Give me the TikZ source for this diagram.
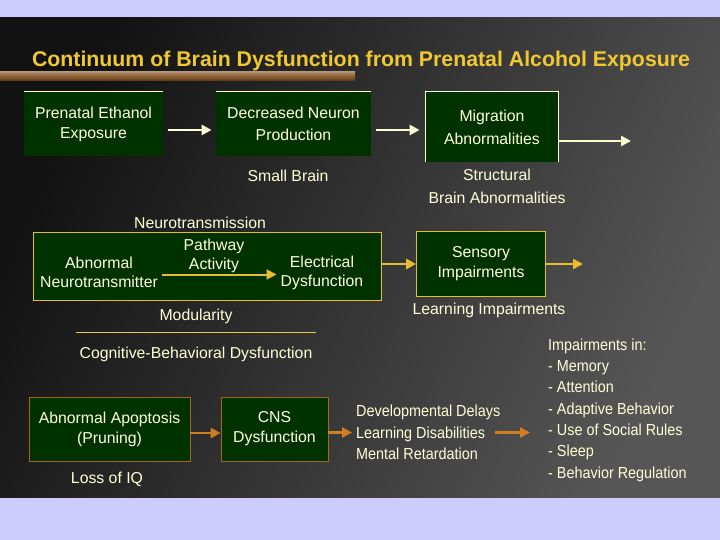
\documentclass[tikz,border=0pt]{standalone}
\usepackage{fontspec}
\setmainfont{Liberation Sans}
\newfontfamily\narrowfont[FakeStretch=0.9]{Liberation Sans}
\usetikzlibrary{arrows.meta, positioning}
\definecolor{lavender}{RGB}{204,204,255}
\definecolor{slidedark}{RGB}{18,18,18}
\definecolor{slidelight}{RGB}{86,86,86}
\definecolor{boxgreen}{RGB}{0,50,0}
\definecolor{cream}{RGB}{255,255,214}
\definecolor{gold}{RGB}{232,190,48}
\definecolor{titleyellow}{RGB}{240,200,48}
\definecolor{rust}{RGB}{208,126,32}
\definecolor{wood}{RGB}{140,92,48}

\begin{document}
\begin{tikzpicture}[x=1pt, y=-1pt,
    font=\fontsize{15.8}{20}\selectfont,
    greenbox/.style={draw=#1, fill=boxgreen, line width=0.8pt, text=cream, align=center, inner sep=2pt},
    note/.style={text=cream, align=center, inner sep=2pt},
    flow/.style={draw=#1, line width=2.5pt, -{Triangle[length=10pt,width=10pt]}}]
    % background and slide
    \fill[lavender] (0,0) rectangle (720,540);
    \shade[top color=slidedark, bottom color=slidelight, shading angle=65] (0,18) rectangle (720,497);
    \shade[top color=wood!70!white, bottom color=wood!60!black, middle color=wood] (0,72) rectangle (355,81);
    \useasboundingbox (0,0) rectangle (720,540);

    \node[text=titleyellow, font=\bfseries\fontsize{21.3}{24}\selectfont] (title) at (361,61) {Continuum of Brain Dysfunction from Prenatal Alcohol Exposure};

    % first row
    \node[greenbox=none, minimum width=139pt, minimum height=64pt] (ethanol) at (93.5,124) {Prenatal Ethanol\\Exposure};
    \node[greenbox=none, minimum width=155pt, minimum height=64pt] (neuron) at (293.5,124) {Decreased Neuron\\[2pt]Production};
    \node[greenbox=none, minimum width=132pt, minimum height=70pt] (migration) at (492,127) {Migration\\[3pt]Abnormalities};
    \draw[cream, line width=0.8pt] (ethanol.north west) -- (ethanol.north east);
    \draw[cream, line width=0.8pt] (neuron.north west) -- (neuron.north east);
    \draw[cream, line width=0.8pt] (migration.south west) -- (migration.north west) -- (migration.north east) -- (migration.south east);
    \coordinate (structout) at (631,141);

    \draw[flow=cream, shorten <=5pt, shorten >=4pt] ([yshift=-6pt]ethanol.east) -- ([yshift=-6pt]neuron.west);
    \draw[flow=cream, shorten <=5pt, shorten >=6pt] ([yshift=-6pt]neuron.east) -- ([yshift=-3pt]migration.west);
    \draw[flow=cream] ([yshift=-14pt]migration.east) -- (structout);

    \node[note] (smallbrain) at (288,176) {Small Brain};
    \node[note, font=\fontsize{15.8}{23}\selectfont] (structural) at (497,186.5) {Structural\\Brain Abnormalities};

    % second row
    \node[note] (neurotrans) at (200,223) {Neurotransmission};
    \node[greenbox=gold, minimum width=348pt, minimum height=68pt] (neurobox) at (207,266) {};
    \node[note, font=\fontsize{15.8}{19}\selectfont] (transmitter) at (99,272.5) {Abnormal\\Neurotransmitter};
    \node[note, font=\fontsize{15.8}{19}\selectfont] (pathway) at (214,256) {Pathway\\Activity};
    \node[note, font=\fontsize{15.8}{19}\selectfont] (electrical) at (322,272.5) {Electrical\\Dysfunction};
    \draw[flow=gold, line width=2pt, shorten <=2pt, shorten >=2pt] ([yshift=-2pt]transmitter.east) -- ([yshift=-2pt]electrical.west);

    \node[greenbox=gold, minimum width=129pt, minimum height=65pt] (sensory) at (481,264) {Sensory\\Impairments};
    \coordinate (sensout) at (583,264);
    \draw[flow=gold] (neurobox.east |- sensory.west) -- (sensory.west);
    \draw[flow=gold] (sensory.east) -- (sensout);

    \node[note] (learning) at (489,310) {Learning Impairments};
    \node[note] (modularity) at (196,316) {Modularity};
    \draw[gold!85!white, line width=1pt] (76,332) -- (316,332);
    \node[note] (cognitive) at (196,354) {Cognitive-Behavioral Dysfunction};

    % third row
    \node[greenbox=rust!80!black, minimum width=161pt, minimum height=64pt] (apoptosis) at (109.5,429) {Abnormal Apoptosis\\(Pruning)};
    \node[greenbox=rust!80!black, minimum width=107pt, minimum height=64pt] (cns) at (274.5,429) {CNS\\Dysfunction};
    \node[note] (iq) at (107,479) {Loss of IQ};
    \node[note, anchor=west, align=left, font=\narrowfont\fontsize{16}{21.5}\selectfont] (delays) at (354,432.5) {Developmental Delays\\Learning Disabilities\\Mental Retardation};
    \node[note, anchor=west, align=left, font=\narrowfont\fontsize{16}{21.3}\selectfont] (impair) at (546,410) {Impairments in:\\- Memory\\- Attention\\- Adaptive Behavior\\- Use of Social Rules\\- Sleep\\- Behavior Regulation};

    \draw[flow=rust] ([yshift=-4pt]apoptosis.east) -- ([yshift=-4pt]cns.west);
    \draw[flow=rust, shorten >=2pt] (cns.east |- delays.west) -- (delays.west);
    \draw[flow=rust, shorten >=16pt] ([xshift=-7pt]delays.east) -- (impair.west |- delays.east);
\end{tikzpicture}
\end{document}
